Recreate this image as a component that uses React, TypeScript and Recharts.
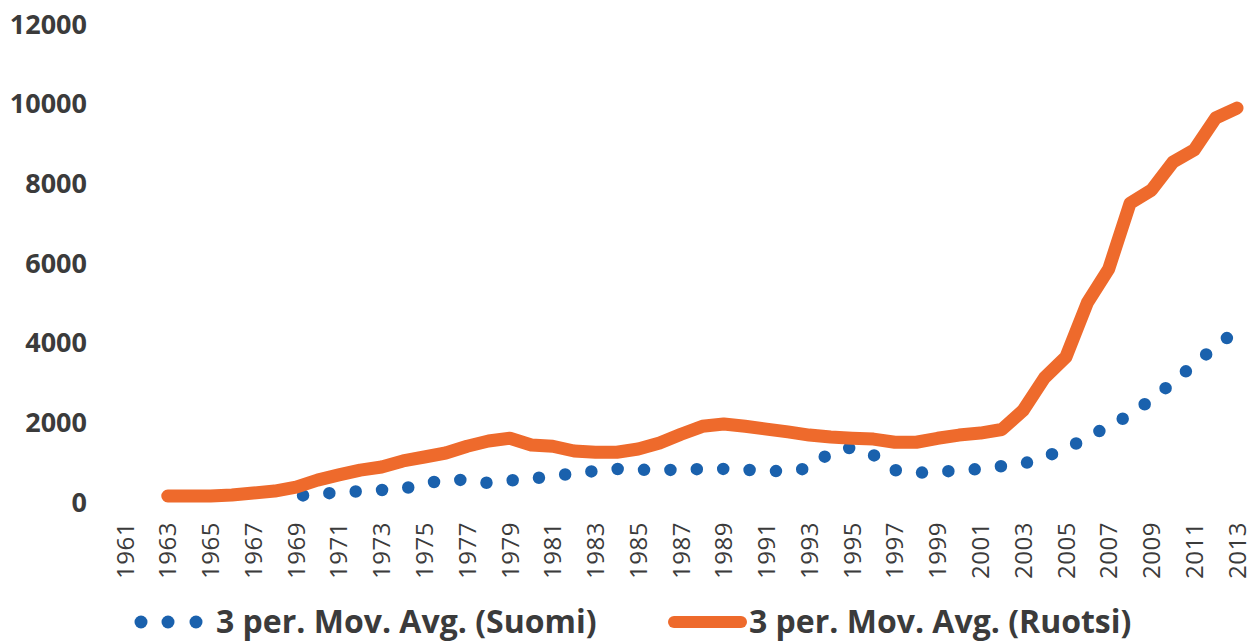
import { Legend, Line, LineChart, XAxis, YAxis } from 'recharts';

const years = [
  '1961', '1962', '1963', '1964', '1965', '1966', '1967', '1968', '1969', '1970',
  '1971', '1972', '1973', '1974', '1975', '1976', '1977', '1978', '1979', '1980',
  '1981', '1982', '1983', '1984', '1985', '1986', '1987', '1988', '1989', '1990',
  '1991', '1992', '1993', '1994', '1995', '1996', '1997', '1998', '1999', '2000',
  '2001', '2002', '2003', '2004', '2005', '2006', '2007', '2008', '2009', '2010',
  '2011', '2012', '2013'
];

// 3 period moving average, Finland (starts 1969)
const suomi: (number | null)[] = [
  null, null, null, null, null, null, null, null,
  150, 200, 240, 270, 300, 330, 470, 540, 560, 475,
  540, 585, 650, 720, 780, 830, 810, 800, 810, 830,
  830, 810, 780, 770, 850, 1250, 1370, 1180, 800, 730,
  760, 790, 830, 900, 960, 1120, 1350, 1600, 1920, 2180,
  2580, 3000, 3460, 3900, 4310
];

// 3 period moving average, Sweden (starts 1963)
const ruotsi: (number | null)[] = [
  null, null,
  150, 150, 150, 175, 225, 275, 375, 550, 680, 800,
  880, 1030, 1130, 1230, 1400, 1530, 1600, 1430, 1400, 1280,
  1250, 1250, 1330, 1480, 1700, 1900, 1960, 1900, 1830, 1760,
  1680, 1630, 1600, 1580, 1500, 1500, 1600, 1680, 1730, 1820,
  2300, 3120, 3640, 5000, 5850, 7500, 7830, 8530, 8840, 9640,
  9890
];

const yTicks = [0, 2000, 4000, 6000, 8000, 10000, 12000];

const BLUE = '#1A61AD';
const ORANGE = '#EE6A2C';
const TEXT = '#3b3b3b';

const chartData = years.map((year, i) => ({
  year,
  suomi: suomi[i],
  ruotsi: ruotsi[i]
}));

function YearTick({ x, y, payload }: any) {
  return (
    <g transform={`translate(${x},${y}) rotate(-90)`}>
      <text
        x={-12}
        y={0}
        dy="0.36em"
        textAnchor="end"
        fill={TEXT}
        fontFamily="'Open Sans', sans-serif"
        fontSize={24}
        letterSpacing={0.5}
      >
        {payload.value}
      </text>
    </g>
  );
}

function LegendBox() {
  const labelStyle: React.CSSProperties = {
    position: 'absolute',
    top: 15,
    fontFamily: "'Open Sans', sans-serif",
    fontWeight: 700,
    fontSize: 32,
    color: TEXT,
    whiteSpace: 'nowrap',
    lineHeight: '40px'
  };
  return (
    <div style={{ position: 'relative', width: 1258, height: 56 }}>
      <svg width={1258} height={56} style={{ position: 'absolute', left: 0, top: 0 }}>
        {[141, 168, 196].map((cx) => (
          <circle key={cx} cx={cx} cy={36} r={6.5} fill={BLUE} />
        ))}
        <line x1={674} y1={36} x2={741} y2={36} stroke={ORANGE} strokeWidth={12} strokeLinecap="round" />
      </svg>
      <span style={{ ...labelStyle, left: 216 }}>3 per. Mov. Avg. (Suomi)</span>
      <span style={{ ...labelStyle, left: 749 }}>3 per. Mov. Avg. (Ruotsi)</span>
    </div>
  );
}

export default function App() {
  return (
    <div style={{ width: 1258, height: 642, background: '#fff' }}>
      <style>{'body{margin:0;}'}</style>
      <LineChart
        width={1258}
        height={642}
        data={chartData}
        margin={{ top: 24, right: 21, bottom: 0, left: 0 }}
      >
        <XAxis
          dataKey="year"
          interval={1}
          axisLine={false}
          tickLine={false}
          height={84}
          tick={<YearTick />}
        />
        <YAxis
          width={125}
          domain={[0, 12000]}
          ticks={yTicks}
          axisLine={false}
          tickLine={false}
          tickMargin={32}
          tick={{
            fill: TEXT,
            fontFamily: "'Open Sans', sans-serif",
            fontWeight: 700,
            fontSize: 27
          }}
        />
        <Legend verticalAlign="bottom" content={() => <LegendBox />} />
        <Line
          type="linear"
          dataKey="suomi"
          name="3 per. Mov. Avg. (Suomi)"
          stroke={BLUE}
          strokeWidth={12.5}
          strokeLinecap="round"
          strokeDasharray="0 26.4"
          strokeDashoffset={19.4}
          dot={false}
          activeDot={false}
          isAnimationActive={false}
        />
        <Line
          type="linear"
          dataKey="ruotsi"
          name="3 per. Mov. Avg. (Ruotsi)"
          stroke={ORANGE}
          strokeWidth={13}
          strokeLinecap="round"
          strokeLinejoin="round"
          dot={false}
          activeDot={false}
          isAnimationActive={false}
        />
      </LineChart>
    </div>
  );
}
